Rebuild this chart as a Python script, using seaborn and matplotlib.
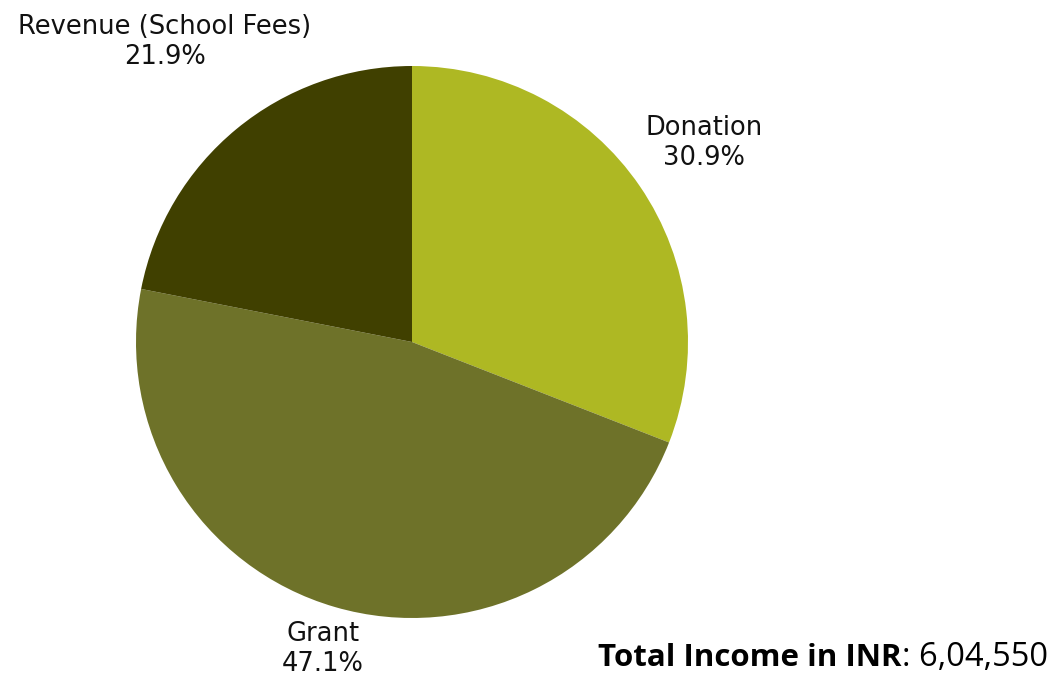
import numpy as np
import matplotlib
matplotlib.use("Agg")
import matplotlib.pyplot as plt
import seaborn as sns

categories = ["Donation", "Grant", "Revenue (School Fees)"]
shares = [30.9, 47.1, 21.9]
colors = ["#AEB823", "#6E7229", "#404000"]
label_dist = [1.28, 1.16, 1.41]
total_label = "Total Income in INR"
total_value = "6,04,550"

sns.set_theme(style="white")
plt.rcParams['font.family'] = ['Open Sans', 'DejaVu Sans']

W, H = 1051, 677
fig = plt.figure(figsize=(W / 100, H / 100), dpi=100)
cx, cy, r = 412, 342, 276
ax = fig.add_axes([(cx - r) / W, (H - cy - r) / H, 2 * r / W, 2 * r / H])
wedges, _ = ax.pie(shares, colors=colors, startangle=90, counterclock=False,
                   wedgeprops=dict(linewidth=0))
ax.set_xlim(-1, 1)
ax.set_ylim(-1, 1)
ax.set_aspect("equal")
ax.axis("off")

for w, name, val, d in zip(wedges, categories, shares, label_dist):
    ang = np.deg2rad((w.theta1 + w.theta2) / 2)
    ax.text(d * np.cos(ang), d * np.sin(ang), f"{name}\n{val:.1f}%",
            ha="center", va="center", fontsize=18.5, color="#111111",
            linespacing=1.2, clip_on=False, family=["DejaVu Sans"])

t1 = fig.text(598 / W, (H - 666) / H, total_label, fontsize=22.5, fontweight="bold",
              color="black", ha="left", va="baseline")
fig.canvas.draw()
bb = t1.get_window_extent()
fig.text(bb.x1 / W, (H - 666) / H, ": " + total_value, fontsize=23.5,
         color="black", ha="left", va="baseline")

fig.savefig("out.png", dpi=100)
